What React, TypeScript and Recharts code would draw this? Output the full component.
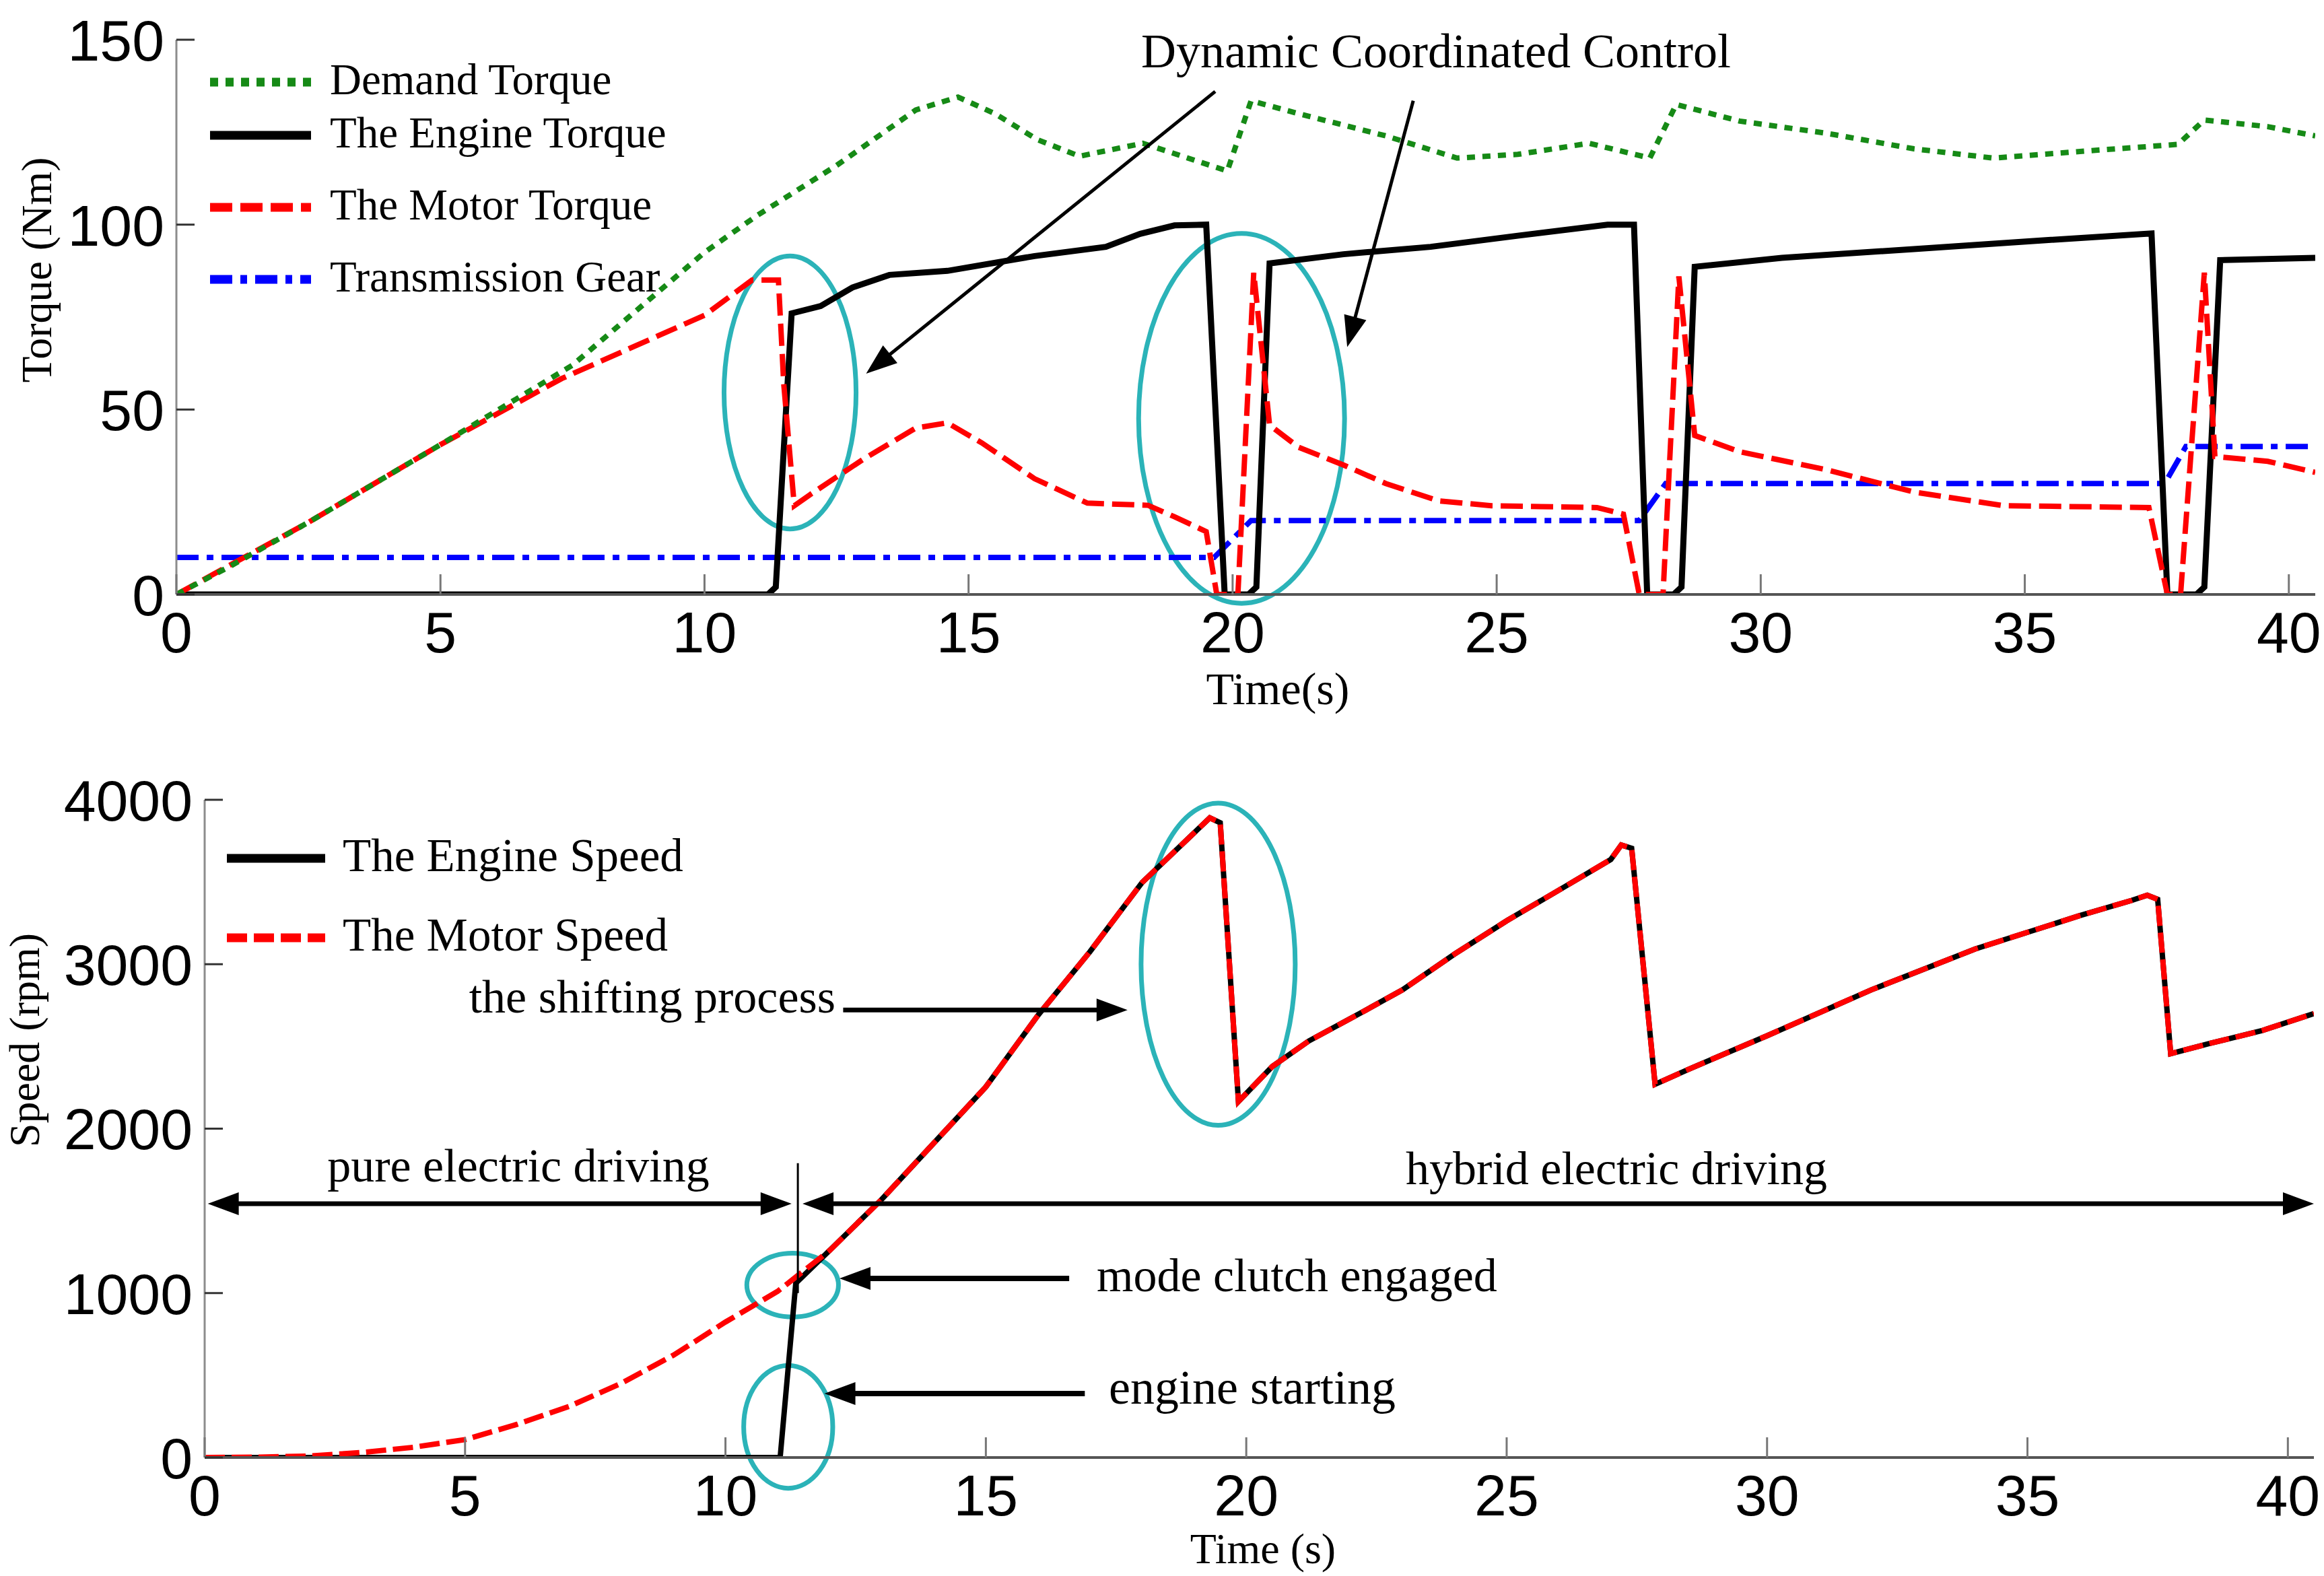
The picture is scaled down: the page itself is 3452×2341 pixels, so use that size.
import React from 'react';
import { LineChart, Line, XAxis, YAxis, ReferenceLine, ReferenceArea, Legend } from 'recharts';

type Pt = [number, number];

// ---- upper panel: torque (Nm) vs time (s) ----
const demandTorque: Pt[] = [
    [0, 0], [1, 7.5], [2.5, 19.5], [5, 40.5], [7.5, 62], [10, 92.5], [11, 102.5], [12.5, 116],
    [14, 131], [14.8, 134.5], [15.5, 130], [16.3, 123], [17.1, 118.5], [18.3, 122], [19.9, 114.5],
    [20.35, 133.5], [21.25, 130], [22.9, 124], [24.25, 118], [25.4, 119], [26.75, 122], [27.9, 118],
    [28.4, 132.5], [29.6, 128], [31.25, 124.7], [32.9, 120.5], [34.4, 118], [36.25, 120], [37.9, 121.7],
    [38.4, 128.3], [39.6, 126.5], [40.5, 124],
];
const engineTorque: Pt[] = [
    [0, 0], [11.2, 0], [11.35, 2], [11.65, 76], [12.2, 78], [12.8, 83], [13.5, 86.4], [14.6, 87.5],
    [16.25, 91.5], [17.6, 94], [18.25, 97.5], [18.9, 99.8], [19.5, 100], [19.85, 0], [20.3, 0],
    [20.45, 2], [20.7, 89.5], [22.1, 92], [23.75, 94], [25.4, 97], [27.1, 100], [27.6, 100],
    [27.85, 0], [28.35, 0], [28.5, 2], [28.75, 88.6], [30.4, 91], [32.9, 93.4], [35.4, 95.8],
    [37.4, 97.6], [37.7, 0], [38.25, 0], [38.4, 2], [38.7, 90.4], [40.5, 91],
];
const motorTorque: Pt[] = [
    [0, 0], [2.5, 19.5], [5, 40.5], [7.3, 58.4], [8.5, 66], [10, 75.5], [10.9, 85], [11.4, 85],
    [11.5, 57], [11.7, 24], [12, 27], [13, 36.5], [14, 45], [14.6, 46.4], [15.25, 41], [16.25, 31.3],
    [17.25, 24.7], [18.4, 24.1], [18.9, 21], [19.5, 17], [19.7, 0], [20.1, 0], [20.4, 87],
    [20.7, 45.8], [21.25, 39.8], [22.1, 35], [22.9, 30], [23.9, 25.3], [24.9, 24], [26.9, 23.5],
    [27.4, 21.7], [27.7, 0], [28.15, 0], [28.45, 86], [28.75, 43], [29.6, 38.6], [31.25, 33.7],
    [32.9, 27.7], [34.6, 24], [37.35, 23.5], [37.7, 0], [37.95, 0], [38.4, 87], [38.6, 37.3],
    [39.6, 36], [40.5, 33],
];
// gear number shown as gear x 10
const transmissionGear: Pt[] = [
    [0, 10], [19.65, 10], [20.35, 20], [27.7, 20], [28.2, 30], [37.65, 30], [38.05, 40], [40.5, 40],
];

// ---- lower panel: speed (rpm) vs time (s) ----
const engineSpeed: Pt[] = [
    [0, 0], [11.05, 0], [11.35, 1060], [12, 1259], [13, 1570], [14, 1912], [15, 2254], [16, 2689],
    [17, 3077], [18, 3497], [19.3, 3890], [19.5, 3860], [19.85, 2165], [20.5, 2378], [21.2, 2533],
    [22.2, 2704], [23, 2844], [24, 3062], [25, 3264], [26, 3450], [27, 3637], [27.2, 3725],
    [27.4, 3705], [27.85, 2270], [28.5, 2362], [30, 2565], [32, 2844], [34, 3093], [36, 3295],
    [37, 3388], [37.3, 3420], [37.5, 3395], [37.75, 2456], [38.5, 2518], [39.5, 2596], [40.5, 2700],
];
const motorSpeed: Pt[] = [
    [0, 0], [1, 2], [2, 9], [3, 30], [4, 62], [5, 109], [6, 202], [7, 311], [8, 451], [9, 622],
    [10, 824], [11, 1010], [12, 1259], [13, 1570], [14, 1912], [15, 2254], [16, 2689], [17, 3077],
    [18, 3497], [19.3, 3890], [19.5, 3860], [19.85, 2165], [20.5, 2378], [21.2, 2533], [22.2, 2704],
    [23, 2844], [24, 3062], [25, 3264], [26, 3450], [27, 3637], [27.2, 3725], [27.4, 3705],
    [27.85, 2270], [28.5, 2362], [30, 2565], [32, 2844], [34, 3093], [36, 3295], [37, 3388],
    [37.3, 3420], [37.5, 3395], [37.75, 2456], [38.5, 2518], [39.5, 2596], [40.5, 2700],
];

const timeTicks = [0, 5, 10, 15, 20, 25, 30, 35, 40];
const torqueTicks = [0, 50, 100, 150];
const speedTicks = [0, 1000, 2000, 3000, 4000];

const rows = (pts: Pt[]) => pts.map(([t, v]) => ({ t, v }));

const SERIF = '"Liberation Serif", "Times New Roman", serif';
const SANS = '"Liberation Sans", Arial, sans-serif';
const CYAN = '#2bb3b8';
const TICK_MARGIN_X = 24;
const TICK_MARGIN_Y = 18;

type Series = { name: string; data: Pt[]; color: string; dash?: string; width: number };

const torqueSeries: Series[] = [
    { name: 'Demand Torque', data: demandTorque, color: '#168a16', dash: '12 11', width: 8 },
    { name: 'The Engine Torque', data: engineTorque, color: '#000000', width: 9 },
    { name: 'The Motor Torque', data: motorTorque, color: '#ff0000', dash: '33 12', width: 8 },
    { name: 'Transmission Gear', data: transmissionGear, color: '#0000ff', dash: '33 12 10 12', width: 8 },
];
const speedSeries: Series[] = [
    { name: 'The Engine Speed', data: engineSpeed, color: '#000000', width: 8 },
    { name: 'The Motor Speed', data: motorSpeed, color: '#ff0000', dash: '30 10', width: 8 },
];

const XTick = (props: any) => {
    const { x, y, payload } = props;
    const axisY = y - TICK_MARGIN_X;
    return (
        <g>
            <line x1={x} x2={x} y1={axisY} y2={axisY - 30} stroke="#777" strokeWidth={3} />
            <text x={x} y={y} dy="0.72em" textAnchor="middle" fontFamily={SANS} fontSize={86} fill="#000">
                {payload.value}
            </text>
        </g>
    );
};

const YTick = (props: any) => {
    const { x, y, payload } = props;
    const axisX = x + TICK_MARGIN_Y;
    return (
        <g>
            <line x1={axisX} x2={axisX + 27} y1={y} y2={y} stroke="#333" strokeWidth={3} />
            <text x={x} y={y} dy="0.36em" textAnchor="end" fontFamily={SANS} fontSize={86} fill="#000">
                {payload.value}
            </text>
        </g>
    );
};

// filled-head arrow drawn between the two pixel ends of a reference segment
const arrow = (heads: 0 | 1 | 2, strokeWidth = 6, len = 46, half = 17) => (p: any) => {
    const { x1, y1, x2, y2 } = p;
    const a = Math.atan2(y2 - y1, x2 - x1);
    const c = Math.cos(a);
    const s = Math.sin(a);
    const tri = (x: number, y: number, dir: number) => {
        const bx = x - dir * len * c;
        const by = y - dir * len * s;
        return `${x},${y} ${bx - half * s},${by + half * c} ${bx + half * s},${by - half * c}`;
    };
    const sx = heads === 2 ? x1 + len * 0.7 * c : x1;
    const sy = heads === 2 ? y1 + len * 0.7 * s : y1;
    const ex = heads >= 1 ? x2 - len * 0.7 * c : x2;
    const ey = heads >= 1 ? y2 - len * 0.7 * s : y2;
    return (
        <g>
            <line x1={sx} y1={sy} x2={ex} y2={ey} stroke="#000" strokeWidth={strokeWidth} />
            {heads >= 1 && <polygon points={tri(x2, y2, 1)} fill="#000" />}
            {heads === 2 && <polygon points={tri(x1, y1, -1)} fill="#000" />}
        </g>
    );
};

const ellipse = (p: any) => (
    <ellipse
        cx={p.x + p.width / 2}
        cy={p.y + p.height / 2}
        rx={Math.abs(p.width) / 2}
        ry={Math.abs(p.height) / 2}
        fill="none"
        stroke={CYAN}
        strokeWidth={7}
    />
);

const keyBox = (items: Series[], rowTops: number[], textLeft: number, lineLen: number, fontSize: number) => () => (
    <div style={{ position: 'relative', width: 1100, height: 420 }}>
        {items.map((it, i) => (
            <div key={it.name} style={{ position: 'absolute', left: 0, top: rowTops[i] }}>
                <svg width={lineLen} height={20} style={{ position: 'absolute', left: 0, top: -10 }}>
                    <line x1={0} y1={10} x2={lineLen} y2={10} stroke={it.color} strokeWidth={13} strokeDasharray={it.dash} />
                </svg>
                <span
                    style={{
                        position: 'absolute',
                        left: textLeft,
                        top: 0,
                        transform: 'translateY(-55%)',
                        whiteSpace: 'nowrap',
                        fontFamily: SERIF,
                        fontSize,
                        color: '#000',
                    }}
                >
                    {it.name}
                </span>
            </div>
        ))}
    </div>
);

const Note = ({ x, y, size = 70, anchor = 'center', rotate = false, children }: any) => {
    const tx = anchor === 'left' ? '0' : anchor === 'right' ? '-100%' : '-50%';
    return (
        <div
            style={{
                position: 'absolute',
                left: x,
                top: y,
                transform: `translate(${tx}, -55%)${rotate ? ' rotate(-90deg)' : ''}`,
                transformOrigin: rotate ? '50% 55%' : undefined,
                whiteSpace: 'nowrap',
                fontFamily: SERIF,
                fontSize: size,
                color: '#000',
                lineHeight: 1,
            }}
        >
            {children}
        </div>
    );
};

export default function App() {
    return (
        <div style={{ position: 'absolute', left: 0, top: 0, width: 3452, height: 2341, background: '#fff', overflow: 'hidden' }}>
            <div style={{ position: 'absolute', left: 0, top: 0 }}>
                <LineChart width={3452} height={1100} margin={{ top: 59, right: 13, bottom: 67, left: 0 }}>
                    <XAxis
                        type="number"
                        dataKey="t"
                        domain={[0, 40.5]}
                        allowDataOverflow
                        ticks={timeTicks}
                        height={150}
                        tickSize={0}
                        tickMargin={TICK_MARGIN_X}
                        tickLine={false}
                        tick={<XTick />}
                        axisLine={{ stroke: '#555', strokeWidth: 4 }}
                    />
                    <YAxis
                        type="number"
                        domain={[0, 150]}
                        allowDataOverflow
                        ticks={torqueTicks}
                        width={262}
                        tickSize={0}
                        tickMargin={TICK_MARGIN_Y}
                        tickLine={false}
                        tick={<YTick />}
                        axisLine={{ stroke: '#8c8c8c', strokeWidth: 3 }}
                    />
                    <Legend
                        layout="vertical"
                        align="center"
                        verticalAlign="middle"
                        wrapperStyle={{ left: 312, top: 60, width: 1100, height: 420 }}
                        content={keyBox(torqueSeries, [62, 141, 248, 355], 178, 150, 65)}
                    />
                    {[torqueSeries[3], torqueSeries[1], torqueSeries[2], torqueSeries[0]].map((s) => (
                        <Line
                            key={s.name}
                            name={s.name}
                            data={rows(s.data)}
                            dataKey="v"
                            type="linear"
                            stroke={s.color}
                            strokeWidth={s.width}
                            strokeDasharray={s.dash}
                            dot={false}
                            activeDot={false}
                            isAnimationActive={false}
                        />
                    ))}
                    <ReferenceArea x1={10.37} x2={12.87} y1={17.7} y2={91.5} ifOverflow="visible" shape={ellipse} />
                    <ReferenceArea x1={18.22} x2={22.12} y1={-2.4} y2={97.6} ifOverflow="visible" shape={ellipse} />
                    <ReferenceLine segment={[{ x: 19.67, y: 136 }, { x: 13.06, y: 59.7 }]} ifOverflow="visible" shape={arrow(1, 5)} />
                    <ReferenceLine segment={[{ x: 23.42, y: 133.5 }, { x: 22.17, y: 66.9 }]} ifOverflow="visible" shape={arrow(1, 5)} />
                </LineChart>
            </div>

            <div style={{ position: 'absolute', left: 0, top: 1100 }}>
                <LineChart width={3452} height={1241} margin={{ top: 88, right: 15, bottom: 26, left: 0 }}>
                    <XAxis
                        type="number"
                        dataKey="t"
                        domain={[0, 40.5]}
                        allowDataOverflow
                        ticks={timeTicks}
                        height={150}
                        tickSize={0}
                        tickMargin={TICK_MARGIN_X}
                        tickLine={false}
                        tick={<XTick />}
                        axisLine={{ stroke: '#555', strokeWidth: 4 }}
                    />
                    <YAxis
                        type="number"
                        domain={[0, 4000]}
                        allowDataOverflow
                        ticks={speedTicks}
                        width={304}
                        tickSize={0}
                        tickMargin={TICK_MARGIN_Y}
                        tickLine={false}
                        tick={<YTick />}
                        axisLine={{ stroke: '#8c8c8c', strokeWidth: 3 }}
                    />
                    <Legend
                        layout="vertical"
                        align="center"
                        verticalAlign="middle"
                        wrapperStyle={{ left: 337, top: 100, width: 1100, height: 420 }}
                        content={keyBox(speedSeries, [75, 193], 172, 146, 69)}
                    />
                    {speedSeries.map((s) => (
                        <Line
                            key={s.name}
                            name={s.name}
                            data={rows(s.data)}
                            dataKey="v"
                            type="linear"
                            stroke={s.color}
                            strokeWidth={s.width}
                            strokeDasharray={s.dash}
                            dot={false}
                            activeDot={false}
                            isAnimationActive={false}
                        />
                    ))}
                    <ReferenceArea x1={17.98} x2={20.94} y1={2020} y2={3980} ifOverflow="visible" shape={ellipse} />
                    <ReferenceArea x1={10.41} x2={12.17} y1={855} y2={1243} ifOverflow="visible" shape={ellipse} />
                    <ReferenceArea x1={10.35} x2={12.06} y1={-187} y2={560} ifOverflow="visible" shape={ellipse} />
                    <ReferenceLine segment={[{ x: 12.26, y: 2722 }, { x: 17.72, y: 2722 }]} ifOverflow="visible" shape={arrow(1, 7)} />
                    <ReferenceLine segment={[{ x: 0.06, y: 1543 }, { x: 11.27, y: 1543 }]} ifOverflow="visible" shape={arrow(2, 7)} />
                    <ReferenceLine segment={[{ x: 11.48, y: 1543 }, { x: 40.5, y: 1543 }]} ifOverflow="visible" shape={arrow(2, 7)} />
                    <ReferenceLine segment={[{ x: 11.39, y: 1790 }, { x: 11.39, y: 1000 }]} ifOverflow="visible" shape={arrow(0, 3)} />
                    <ReferenceLine segment={[{ x: 16.6, y: 1089 }, { x: 12.19, y: 1089 }]} ifOverflow="visible" shape={arrow(1, 8)} />
                    <ReferenceLine segment={[{ x: 16.9, y: 389 }, { x: 11.9, y: 389 }]} ifOverflow="visible" shape={arrow(1, 8)} />
                </LineChart>
            </div>

            <Note x={2133} y={80} size={72}>Dynamic Coordinated Control</Note>
            <Note x={1898} y={1026} size={68}>Time(s)</Note>
            <Note x={58} y={401} size={64} rotate>Torque (Nm)</Note>

            <Note x={1876} y={2304} size={64}>Time (s)</Note>
            <Note x={40} y={1545} size={64} rotate>Speed (rpm)</Note>
            <Note x={1241} y={1484} anchor="right">the shifting process</Note>
            <Note x={770} y={1735}>pure electric driving</Note>
            <Note x={2401} y={1739}>hybrid electric driving</Note>
            <Note x={1629} y={1898} anchor="left">mode clutch engaged</Note>
            <Note x={1647} y={2065} anchor="left" size={72}>engine starting</Note>
        </div>
    );
}
